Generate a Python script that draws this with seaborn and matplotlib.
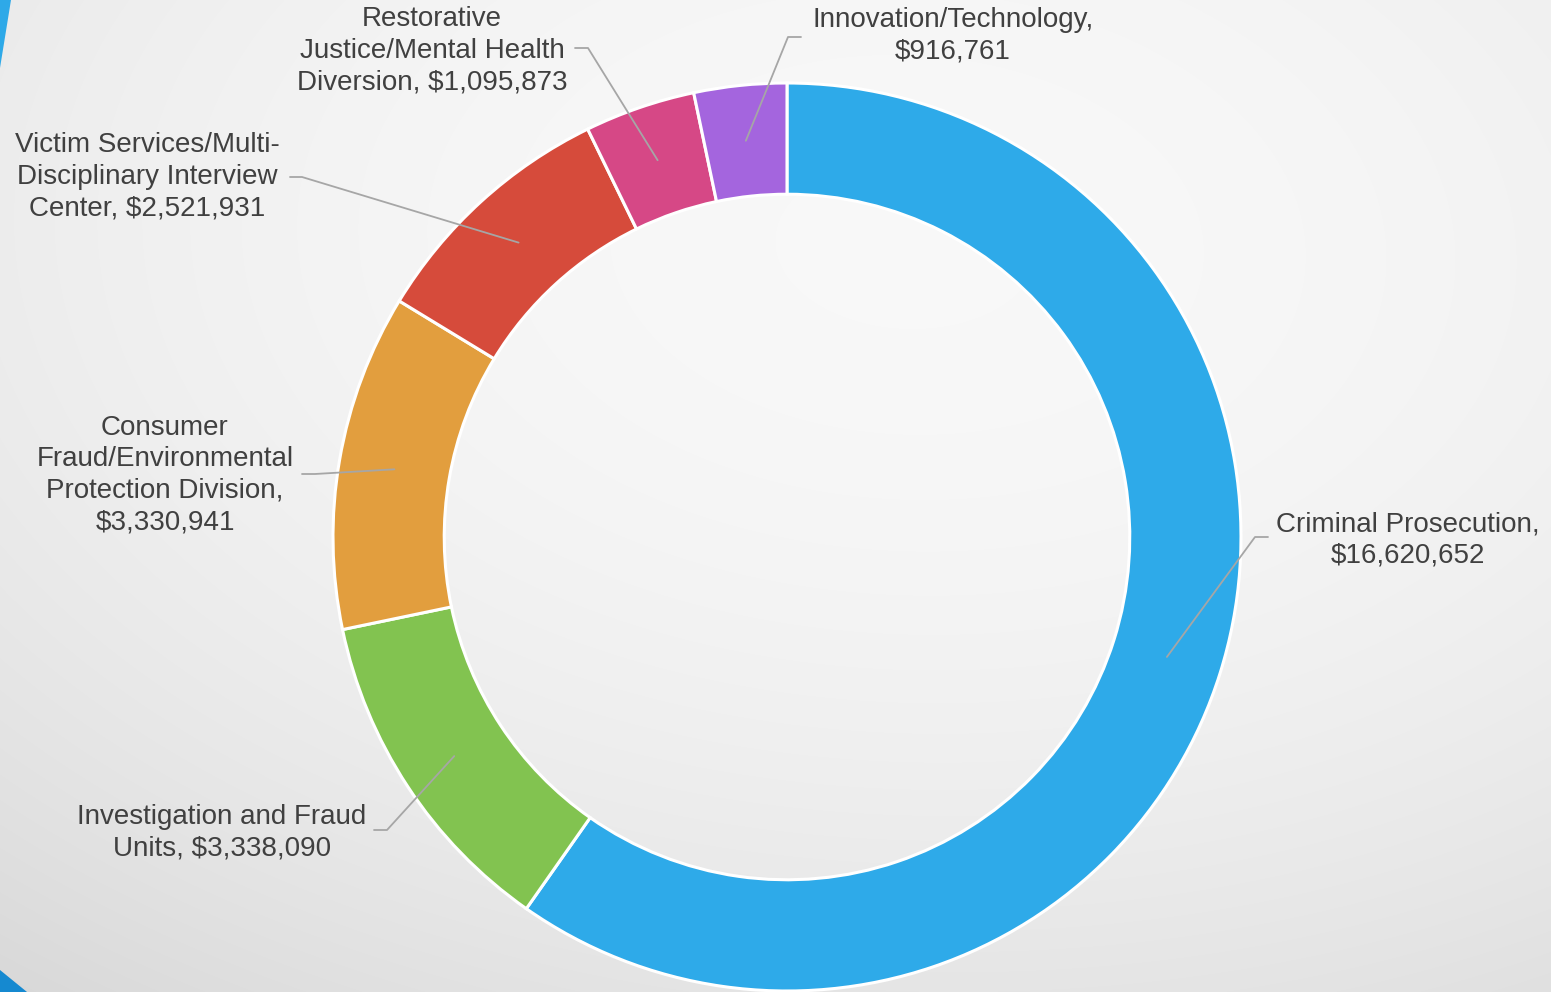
import numpy as np
import matplotlib
matplotlib.use("Agg")
import matplotlib.pyplot as plt
from matplotlib.patches import Polygon
import seaborn as sns


# -------------------------------------------------
# Data
# -------------------------------------------------

categories = [
    "Criminal Prosecution",
    "Investigation and Fraud Units",
    "Consumer Fraud/Environmental Protection Division",
    "Victim Services/Multi-Disciplinary Interview Center",
    "Restorative Justice/Mental Health Diversion",
    "Innovation/Technology",
]

amounts = [16620652, 3338090, 3330941, 2521931, 1095873, 916761]

label_texts = [
    "Criminal Prosecution,\n$16,620,652",
    "Investigation and Fraud\nUnits, $3,338,090",
    "Consumer\nFraud/Environmental\nProtection Division,\n$3,330,941",
    "Victim Services/Multi-\nDisciplinary Interview\nCenter, $2,521,931",
    "Restorative\nJustice/Mental Health\nDiversion, $1,095,873",
    "Innovation/Technology,\n$916,761",
]

slice_colors = ["#2eaae9", "#82c350", "#e29e3e", "#d64b3b", "#d64886", "#a465de"]


# -------------------------------------------------
# Layout (pixels on a 1551 x 992 canvas)
# -------------------------------------------------

W, H = 1551, 992
CENTER_PX = (787, 537)
RADIUS_PX = 454
RING_WIDTH = 0.245

# text centre, elbow of leader, end of leader
label_layout = [
    ((1408, 540), (1255, 537), (1268, 537)),
    ((222, 833), (387, 830), (374, 830)),
    ((165, 475), (315, 474), (302, 474)),
    ((147, 177), (302, 177), (290, 177)),
    ((432, 51), (588, 48), (575, 48)),
    ((953, 36), (788, 37), (801, 37)),
]


def px(x, y):
    """
    Convert canvas pixels to pie data coordinates.
    """

    return (
        (x - CENTER_PX[0]) / RADIUS_PX,
        (CENTER_PX[1] - y) / RADIUS_PX
    )


sns.set_theme(style="white")
plt.rcParams["font.family"] = ["Liberation Sans", "DejaVu Sans"]

fig = plt.figure(figsize=(W / 100, H / 100), dpi=100)


# -------------------------------------------------
# Background: soft gray gradient and blue corner shapes
# -------------------------------------------------

bg_ax = fig.add_axes([0, 0, 1, 1], zorder=0)

yy, xx = np.mgrid[0:H, 0:W]
u = xx / W
v = yy / H
base = (
    235 * (1 - u) * (1 - v)
    + 240 * u * (1 - v)
    + 216 * (1 - u) * v
    + 224 * u * v
)
r2 = ((u - 0.5) ** 2 + (v - 0.5) ** 2) / 0.5
gray = (base + 17 * (1 - r2)) / 255.0
gray = np.clip(gray, 0, 1)

bg_ax.imshow(
    np.dstack([gray, gray, gray]),
    extent=(0, W, H, 0),
    aspect="auto"
)
bg_ax.add_patch(Polygon([(0, 0), (11, 0), (0, 68)], closed=True,
                        color="#2ea9e8", lw=0))
bg_ax.add_patch(Polygon([(0, 970), (27, 992), (0, 992)], closed=True,
                        color="#1589d0", lw=0))
bg_ax.set_xlim(0, W)
bg_ax.set_ylim(H, 0)
bg_ax.axis("off")


# -------------------------------------------------
# Donut chart
# -------------------------------------------------

ax = fig.add_axes([0, 0, 1, 1], zorder=1)
ax.patch.set_alpha(0)

palette = sns.color_palette(slice_colors)

wedges, _ = ax.pie(
    amounts,
    colors=palette,
    startangle=90,
    counterclock=False,
    radius=1,
    wedgeprops=dict(width=RING_WIDTH, edgecolor="white", linewidth=2.2)
)

total = sum(amounts)
fractions = np.array(amounts) / total
cum_before = np.concatenate([[0], np.cumsum(fractions)[:-1]])
mid_angles = np.deg2rad(90 - 360 * (cum_before + fractions / 2))
anchor_r = 1 - RING_WIDTH / 2

for angle, text, (text_pos, elbow, end) in zip(mid_angles, label_texts, label_layout):
    ax_x = anchor_r * np.cos(angle)
    ax_y = anchor_r * np.sin(angle)
    ex, ey = px(*elbow)
    tx, ty = px(*end)

    ax.plot(
        [ax_x, ex, tx],
        [ax_y, ey, ty],
        color="#a6a6a6",
        linewidth=1.3,
        zorder=3
    )

    lx, ly = px(*text_pos)
    ax.text(
        lx, ly, text,
        ha="center",
        va="center",
        multialignment="center",
        fontsize=20,
        color="#404040",
        linespacing=1.28
    )

ax.set_xlim(*[px(0, 0)[0], px(W, 0)[0]])
ax.set_ylim(px(0, H)[1], px(0, 0)[1])
ax.set_aspect("equal", adjustable="box")
ax.axis("off")

plt.savefig("out.png", dpi=100)
plt.close()
